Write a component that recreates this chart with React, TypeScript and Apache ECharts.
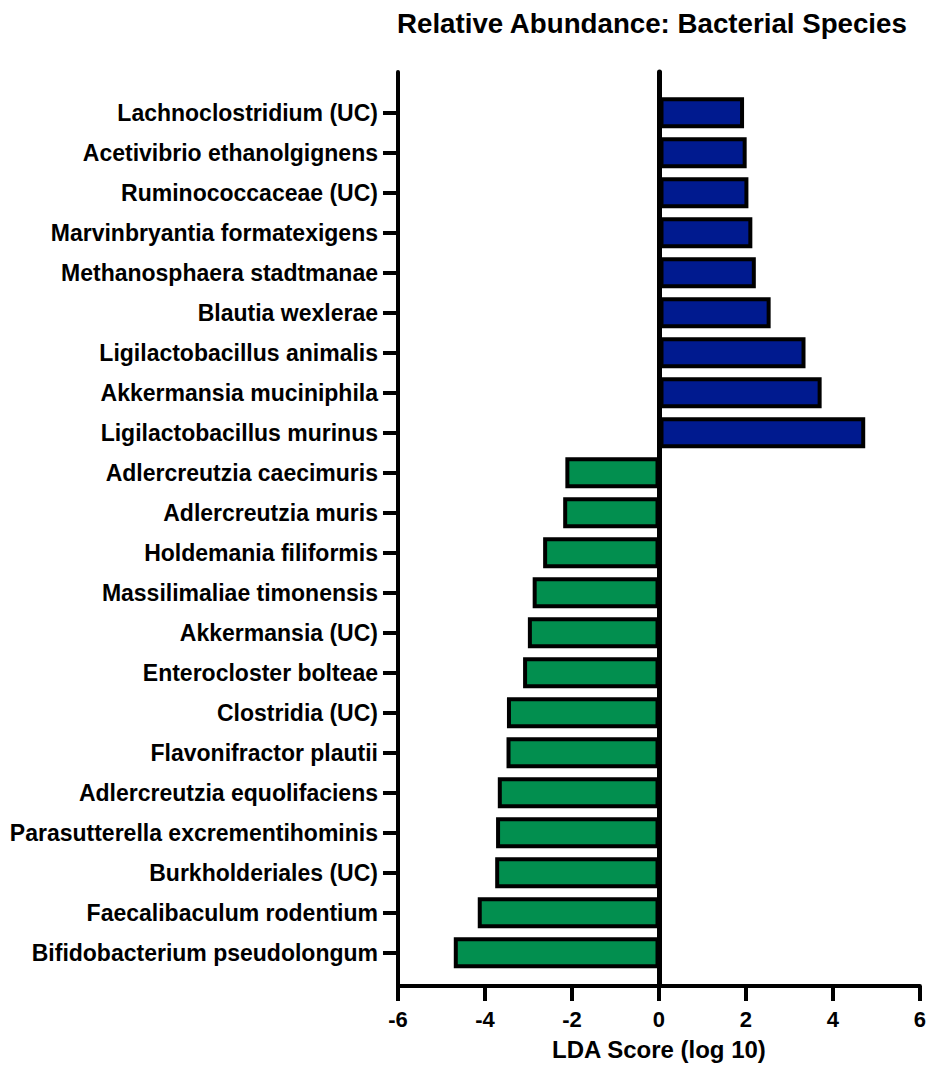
import React, { useEffect, useRef } from "react";
import * as echarts from "echarts";

// Species in display order (top to bottom)
const species = [
  "Lachnoclostridium (UC)",
  "Acetivibrio ethanolgignens",
  "Ruminococcaceae (UC)",
  "Marvinbryantia formatexigens",
  "Methanosphaera stadtmanae",
  "Blautia wexlerae",
  "Ligilactobacillus animalis",
  "Akkermansia muciniphila",
  "Ligilactobacillus murinus",
  "Adlercreutzia caecimuris",
  "Adlercreutzia muris",
  "Holdemania filiformis",
  "Massilimaliae timonensis",
  "Akkermansia (UC)",
  "Enterocloster bolteae",
  "Clostridia (UC)",
  "Flavonifractor plautii",
  "Adlercreutzia equolifaciens",
  "Parasutterella excrementihominis",
  "Burkholderiales (UC)",
  "Faecalibaculum rodentium",
  "Bifidobacterium pseudolongum",
];

// LDA scores (log 10); positive = enriched (blue), negative = depleted (green)
const ldaScores = [
  1.94, 2.0, 2.04, 2.13, 2.21, 2.55, 3.35, 3.72, 4.72,
  -2.16, -2.21, -2.67, -2.91, -3.02, -3.13, -3.5, -3.51, -3.71, -3.75, -3.77, -4.17, -4.72,
];

const xMin = -6;
const xMax = 6;
const xStep = 2;

const FONT = "'Liberation Sans', Arial, Helvetica, sans-serif";
const POS_COLOR = "#001a8f";
const NEG_COLOR = "#028f4f";

export default function App() {
  const ref = useRef<HTMLDivElement>(null);

  useEffect(() => {
    if (!ref.current) return;
    const chart = echarts.init(ref.current, undefined, { renderer: "svg" });

    const option = {
      animation: false,
      backgroundColor: "#ffffff",
      title: {
        text: "Relative Abundance: Bacterial Species",
        left: 397,
        top: 9,
        padding: 0,
        textStyle: {
          fontFamily: FONT,
          fontWeight: "bold",
          fontSize: 27.7,
          color: "#000",
        },
      },
      grid: [
        // frame grid: axes spanning the full plot height
        { left: 398, right: 8, top: 72, bottom: 79 },
        // bar grid: one 40px band per species
        { left: 398, right: 8, top: 92.7, bottom: 93.3 },
      ],
      xAxis: [
        {
          gridIndex: 0,
          type: "value",
          min: xMin,
          max: xMax,
          interval: xStep,
          name: "LDA Score (log 10)",
          nameLocation: "middle",
          nameGap: 51,
          nameTextStyle: {
            fontFamily: FONT,
            fontWeight: "bold",
            fontSize: 24,
            color: "#000",
          },
          axisLine: { onZero: false, lineStyle: { color: "#000", width: 4 } },
          axisTick: { show: true, length: 15, lineStyle: { color: "#000", width: 4 } },
          axisLabel: {
            margin: 22,
            fontFamily: FONT,
            fontWeight: "bold",
            fontSize: 22,
            color: "#000",
          },
          splitLine: { show: false },
        },
        {
          gridIndex: 1,
          type: "value",
          min: xMin,
          max: xMax,
          show: false,
          splitLine: { show: false },
        },
      ],
      yAxis: [
        {
          // vertical line at x = 0
          gridIndex: 0,
          type: "value",
          min: 0,
          max: 1,
          position: "right",
          z: 5,
          axisLine: { show: true, onZero: true, lineStyle: { color: "#000", width: 5 } },
          axisTick: { show: false },
          axisLabel: { show: false },
          splitLine: { show: false },
        },
        {
          // left frame line at x = -6
          gridIndex: 0,
          type: "value",
          min: 0,
          max: 1,
          position: "left",
          z: 5,
          axisLine: { show: true, onZero: false, lineStyle: { color: "#000", width: 4 } },
          axisTick: { show: false },
          axisLabel: { show: false },
          splitLine: { show: false },
        },
        {
          gridIndex: 1,
          type: "category",
          data: species,
          inverse: true,
          position: "left",
          axisLine: { show: false, onZero: false },
          axisTick: {
            show: true,
            alignWithLabel: true,
            length: 15,
            lineStyle: { color: "#000", width: 4 },
          },
          axisLabel: {
            margin: 20,
            fontFamily: FONT,
            fontWeight: "bold",
            fontSize: 23,
            color: "#000",
          },
          splitLine: { show: false },
        },
      ],
      series: [
        {
          type: "bar",
          xAxisIndex: 1,
          yAxisIndex: 2,
          data: ldaScores,
          barWidth: 31,
          itemStyle: {
            color: (p: any) => (p.value >= 0 ? POS_COLOR : NEG_COLOR),
            borderColor: "#000",
            borderWidth: 4,
          },
        },
      ],
    };

    chart.setOption(option as any);
    return () => chart.dispose();
  }, []);

  return (
    <div
      ref={ref}
      style={{ position: "fixed", left: 0, top: 0, width: 929, height: 1066 }}
    />
  );
}
